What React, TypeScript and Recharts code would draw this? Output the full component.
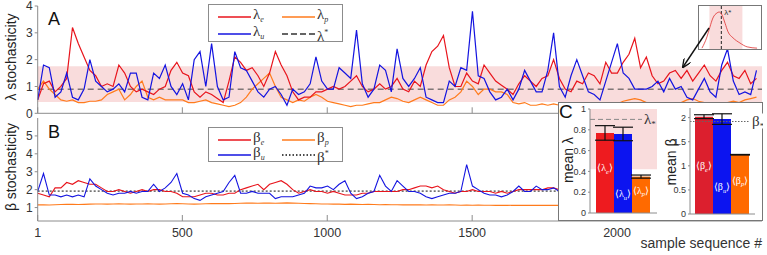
import React from 'react';
import { LineChart, Line, XAxis, YAxis, ReferenceArea, ReferenceLine, BarChart, Bar, ErrorBar } from 'recharts';

const SANS = '"Liberation Sans", Arial, Helvetica, sans-serif';
const SERIF = '"Liberation Serif", "Times New Roman", serif';
const AXIS = '#8c8c8c';
const TEXT = '#333333';
const PINK = '#f9dcdc';
const RED = '#e8141c';
const BLUE = '#1414e0';
const ORANGE = '#ff7b1c';
const BAR_RED = '#ee1b1f';
const BAR_RED_B = '#dc1f2e';
const BAR_BLUE = '#0c14f0';
const BAR_ORANGE = '#ff6a00';

// one reading every 20 samples, starting at sample 1
const STEP = 20;
const X_TICKS = [1, 500, 1000, 1500, 2000];
const LAMBDA_TICKS = [0, 1, 2, 3, 4];
const BETA_TICKS = [1, 2, 3, 4, 5];

const LAMBDA_E = [
  0.5, 1.1, 1.2, 0.8, 1.0, 1.3, 3.2, 2.6, 2.1, 1.6, 1.4, 1.0, 1.1, 1.0, 1.8, 1.5, 1.0, 0.8, 0.9, 0.8,
  0.7, 0.9, 1.0, 1.6, 1.9, 1.5, 1.4, 0.8, 0.6, 0.8, 0.7, 0.55, 0.4, 1.2, 2.1, 1.9, 1.6, 1.7, 1.4,
  1.0, 1.5, 2.3, 1.8, 1.4, 0.8, 0.5, 0.6, 0.6, 0.8, 0.8, 0.9, 1.0, 0.9, 1.0, 1.2, 1.4, 1.0, 0.8, 0.9,
  1.1, 0.9, 1.0, 1.3, 0.9, 0.8, 1.2, 1.0, 1.8, 2.3, 2.5, 2.9, 1.7, 1.0, 1.0, 1.5, 1.2, 1.1, 1.8, 1.5,
  1.2, 1.05, 0.9,
  0.7, 1.1, 1.4, 1.2, 1.0, 1.3, 1.4, 2.0, 1.3, 0.9, 0.8, 1.2, 1.1, 1.5, 1.4, 1.1, 1.9, 1.5, 1.5, 1.9,
  2.2, 2.8, 1.7, 2.1, 1.4, 1.1, 1.2, 1.5, 1.6, 1.3, 1.6, 1.2, 1.5, 1.8, 1.4, 1.2, 1.6, 1.9, 1.4, 1.3,
  1.6, 1.1, 1.3,
];
const LAMBDA_U = [
  0.5, 1.8, 1.7, 0.6, 0.8, 1.5, 0.6, 0.5, 0.9, 2.0, 1.2, 1.0, 0.8, 0.9, 1.1, 0.8, 1.5, 1.5, 0.6, 0.5,
  1.5, 1.3, 1.8, 1.0, 0.7, 1.1, 0.5, 2.0, 2.3, 1.0, 2.6, 1.0, 0.5, 0.6, 2.3, 1.7, 1.6, 1.2, 0.8,
  0.6, 0.9, 1.0, 0.7, 0.3, 0.9, 0.7, 0.8, 1.1, 2.1, 1.2, 0.9, 0.9, 1.7, 1.5, 1.3, 3.1, 1.1, 0.6, 0.9,
  1.8, 1.6, 0.8, 2.4, 1.3, 1.0, 1.3, 1.7, 0.6, 0.5, 0.4, 0.4, 1.2, 1.0, 1.7, 1.6, 3.8, 1.4, 1.3, 0.8,
  0.5, 0.6, 0.9,
  0.5, 0.9, 1.6, 1.2, 0.8, 0.8, 1.6, 3.0, 1.0, 0.6, 1.4, 2.0, 1.4, 0.8, 0.7, 0.5, 1.2, 1.9, 2.6, 1.5,
  1.3, 0.9, 0.9, 0.9, 1.0, 1.2, 0.8, 1.3, 0.9, 1.0, 0.6, 0.5, 0.9, 1.3, 0.8, 0.6, 1.8, 2.4, 1.2, 0.7,
  0.8, 0.7, 1.6,
];
const LAMBDA_P = [
  0.9, 1.2, 0.9, 0.7, 0.5, 0.45, 0.5, 0.4, 0.4, 0.45, 0.45, 0.5, 0.7, 0.8, 0.9, 0.5, 0.7, 1.0, 1.2, 0.6,
  0.5, 0.6, 0.5, 0.5, 0.5, 0.5, 0.4, 0.4, 0.45, 0.5, 0.4, 0.35, 0.3, 0.25, 0.3, 0.4, 0.6, 0.9, 1.1,
  1.3, 1.5, 1.0, 0.6, 0.5, 0.4, 0.5, 0.45, 0.6, 0.7, 0.6, 0.45, 0.4, 0.35, 0.3, 0.25, 0.3, 0.3, 0.35, 0.4,
  0.4, 0.5, 0.6, 0.55, 0.45, 0.4, 0.5, 0.6, 0.5, 0.4, 0.3, 0.3, 0.5, 0.6, 0.8, 1.2, 1.0, 0.7, 0.9, 0.9,
  0.8, 0.8, 0.7,
  0.4, 0.35, 0.4, 0.3, 0.3, 0.35, 0.3, 0.35, 0.3, 0.35, 0.3, 0.3, 0.35, 0.3, 0.35, 0.4, 0.35, 0.3, 0.35, 0.45,
  0.5, 0.55, 0.5, 0.4, 0.35, 0.3, 0.35, 0.3, 0.35, 0.4, 0.5, 0.55, 0.45, 0.4, 0.35, 0.3, 0.35, 0.4, 0.45, 0.4,
  0.5, 0.55, 0.6,
];

// beta traces are covered by panel C after ~sample 1800, so they stop there
const BETA_E = [
  1.8, 1.7, 1.6, 2.1, 2.1, 2.4, 2.3, 2.5, 2.4, 2.3, 2.3, 2.1, 1.9, 1.9, 2.0, 1.9, 1.8, 1.9, 2.0, 1.9,
  2.0, 2.0, 1.9, 1.9, 1.8, 1.6, 1.6, 1.6, 1.7, 1.8, 1.8, 1.7, 1.7, 1.8, 1.8, 2.0, 2.1, 2.2, 2.3,
  2.0, 2.3, 2.4, 2.5, 2.3, 2.0, 1.8, 1.9, 2.0, 1.9, 1.9, 1.8, 1.9, 1.8, 1.7, 1.7, 1.7, 1.8, 1.8, 1.9,
  1.9, 1.9, 1.9, 1.9, 2.0, 2.0, 2.1, 2.2, 2.2, 2.1, 2.2, 2.0, 1.9, 1.8, 1.9, 1.9, 2.0, 1.9, 1.9, 1.9,
  1.8, 1.9, 1.8, 1.9, 2.0, 2.0, 2.0, 2.0, 2.0, 2.1, 2.1, 2.0,
];
const BETA_U = [
  1.9, 2.9, 1.7, 1.7, 1.6, 1.7, 1.6, 1.7, 1.6, 2.6, 2.2, 2.0, 1.8, 1.7, 1.8, 1.8, 1.9, 1.8, 1.9, 1.9,
  2.3, 1.9, 2.1, 2.4, 2.9, 1.8, 1.7, 1.5, 1.4, 1.6, 1.7, 1.8, 1.9, 2.4, 2.8, 1.8, 1.8, 1.9, 1.8,
  1.8, 1.8, 1.5, 1.6, 1.6, 1.6, 1.7, 1.8, 2.2, 2.1, 2.1, 2.2, 2.0, 2.3, 2.5, 1.8, 1.5, 1.6, 1.8, 1.9,
  2.8, 2.2, 1.9, 2.5, 2.2, 1.9, 1.9, 1.8, 1.6, 1.5, 1.6, 1.7, 1.8, 1.8, 1.9, 3.4, 2.2, 2.0, 1.8, 1.7,
  1.7, 1.6, 1.7, 1.9, 2.2, 1.9, 1.9, 2.2, 2.0, 2.0, 2.1, 1.9,
];
const BETA_P = [
  1.15, 1.15, 1.14, 1.16, 1.17, 1.18, 1.18, 1.17, 1.18, 1.19, 1.2, 1.2, 1.19, 1.2, 1.21, 1.2, 1.19, 1.2, 1.2, 1.21,
  1.2, 1.19, 1.2, 1.21, 1.22, 1.21, 1.2, 1.19, 1.2, 1.21, 1.22, 1.22, 1.23, 1.22, 1.23, 1.24, 1.25, 1.25, 1.24,
  1.25, 1.25, 1.24, 1.25, 1.26, 1.25, 1.24, 1.23, 1.22, 1.21, 1.2, 1.2, 1.19, 1.19, 1.18, 1.19, 1.18, 1.17, 1.18, 1.17,
  1.16, 1.17, 1.16, 1.16, 1.15, 1.16, 1.15, 1.15, 1.14, 1.15, 1.14, 1.14, 1.15, 1.14, 1.13, 1.14, 1.13, 1.14, 1.13, 1.13,
  1.12, 1.13, 1.12, 1.13, 1.12, 1.12, 1.13, 1.12, 1.12, 1.12, 1.12, 1.12,
];

const LAMBDA_STAR = 0.9;
const LAMBDA_BAND = [0.42, 1.75];
const BETA_STAR = 1.92;

// inset: distribution of lambda
const DIST_X = [0.12, 0.32, 0.44, 0.56, 0.73, 0.81, 0.93, 1.05, 1.17, 1.37, 1.65, 1.94, 2.34];
const DIST_Y = [0.02, 0.28, 0.51, 0.72, 0.84, 0.86, 0.79, 0.6, 0.4, 0.26, 0.14, 0.05, 0.02];

// panel C: means and error bars (e, u, p)
const MEAN_LAMBDA = [0.77, 0.76, 0.35];
const MEAN_LAMBDA_ERR = [0.07, 0.065, 0.015];
const MEAN_BETA = [2.02, 1.97, 1.23];
const MEAN_BETA_ERR = [0.04, 0.11, 0.006];
const MEAN_LAMBDA_TICKS = [0, 0.2, 0.4, 0.6, 0.8, 1];
const MEAN_BETA_TICKS = [0, 0.5, 1, 1.5, 2];

const lambdaRows = LAMBDA_E.map((v, i) => ({ n: 1 + i * STEP, e: v, u: LAMBDA_U[i], p: LAMBDA_P[i] }));
const betaRows = BETA_E.map((v, i) => ({ n: 1 + i * STEP, e: v, u: BETA_U[i], p: BETA_P[i] }));
const distRows = DIST_X.map((x, i) => ({ x, y: DIST_Y[i] }));
const meanRows = (vals: number[], errs: number[]) => [
  { g: 'mean', e: vals[0], u: vals[1], p: vals[2], eErr: errs[0], uErr: errs[1], pErr: errs[2] },
];

const BottomTick = ({ x, y, payload, showLabel }: any) => (
  <g>
    <line x1={x} x2={x} y1={y - (showLabel ? 7 : 0)} y2={y - (showLabel ? 7 : 0) - 6} stroke={AXIS} />
    {showLabel && (
      <text x={x} y={y} dy="0.75em" textAnchor="middle" fontSize={12.5} fill={TEXT} fontFamily={SANS}>
        {payload.value}
      </text>
    )}
  </g>
);

const BarTag = ({ x, y, width, height, sym, sub, frac }: any) => (
  <text
    x={x + width / 2}
    y={y + height * (1 - frac) + 4}
    textAnchor="middle"
    fill="#fff"
    fontSize={10}
    fontFamily={SERIF}
  >
    <tspan>{'\u27E8' + sym}</tspan>
    <tspan dy={2.5} fontSize={6.5} fontStyle="italic">{sub}</tspan>
    <tspan dy={-2.5}>{'\u27E9'}</tspan>
  </text>
);

const StarTag = ({ viewBox, sym, bg, dx }: any) => {
  const rx = viewBox.x + viewBox.width + dx;
  return (
    <g>
      <rect x={rx - 2} y={viewBox.y - 8} width={15} height={15} fill={bg} />
      <text x={rx} y={viewBox.y + 5} fontSize={15} fill="#333" fontFamily={SERIF}>
        {sym}
        <tspan dy={3} fontSize={9}>*</tspan>
      </text>
    </g>
  );
};

type LegendItem = { color: string; dash?: string; sym: string; sub?: string; sup?: string; left: number; top: number };

const LegendBox = ({ left, top, width, height, items }: { left: number; top: number; width: number; height: number; items: LegendItem[] }) => (
  <div
    style={{
      position: 'absolute', left, top, width, height, boxSizing: 'border-box',
      border: `1px solid ${AXIS}`, background: '#fff',
    }}
  >
    {items.map((it, i) => (
      <div key={i} style={{ position: 'absolute', left: it.left, top: it.top, height: 14, display: 'flex', alignItems: 'center' }}>
        <svg width={33} height={4} style={{ display: 'block' }}>
          <line x1={0} x2={33} y1={2} y2={2} stroke={it.color} strokeWidth={1.3} strokeDasharray={it.dash} />
        </svg>
        <span style={{ fontFamily: SERIF, fontSize: 15, lineHeight: '13px', marginLeft: 2, color: '#333', whiteSpace: 'nowrap' }}>
          {it.sym}
          {it.sub && <span style={{ fontSize: 8, fontStyle: 'italic', verticalAlign: -3 }}>{it.sub}</span>}
          {it.sup && <span style={{ fontSize: 8, verticalAlign: 6 }}>{it.sup}</span>}
        </span>
      </div>
    ))}
  </div>
);

const lambdaLegend: LegendItem[] = [
  { color: RED, sym: 'λ', sub: 'e', left: 9, top: 5 },
  { color: ORANGE, sym: 'λ', sub: 'p', left: 73, top: 5 },
  { color: BLUE, sym: 'λ', sub: 'u', left: 9, top: 22 },
  { color: '#333', dash: '6 3', sym: 'λ', sup: '*', left: 73, top: 22 },
];
const betaLegend: LegendItem[] = [
  { color: RED, sym: 'β', sub: 'e', left: 9, top: 5 },
  { color: ORANGE, sym: 'β', sub: 'p', left: 73, top: 5 },
  { color: BLUE, sym: 'β', sub: 'u', left: 9, top: 20 },
  { color: '#111', dash: '1.5 2', sym: 'β', sup: '*', left: 73, top: 20 },
];

const yTick = { fontSize: 12, fill: TEXT, fontFamily: SANS };
const smallTick = { fontSize: 9, fill: TEXT, fontFamily: SANS };

export default function App() {
  return (
    <div style={{ position: 'absolute', left: 0, top: 0, width: 767, height: 255, background: '#fff', overflow: 'hidden', fontFamily: SANS }}>
      {/* Panel A */}
      <div style={{ position: 'absolute', left: 0, top: 0 }}>
        <LineChart width={767} height={125} data={lambdaRows} margin={{ top: 6, right: 5, bottom: 0, left: 0 }}>
          <ReferenceArea y1={LAMBDA_BAND[0]} y2={LAMBDA_BAND[1]} fill={PINK} fillOpacity={1} stroke="none" />
          <XAxis
            dataKey="n" type="number" domain={[1, 2500]} ticks={X_TICKS} interval={0}
            height={11.7} tickSize={0} tickMargin={0} tickLine={false}
            axisLine={{ stroke: AXIS }}
            tick={(p: any) => <BottomTick {...p} showLabel={false} />}
          />
          <YAxis
            domain={[0, 4]} ticks={LAMBDA_TICKS} interval={0} width={37.7} tickSize={3} tickMargin={2}
            axisLine={{ stroke: AXIS }} tickLine={{ stroke: AXIS }} tick={yTick}
          />
          <ReferenceLine y={LAMBDA_STAR} stroke="#444" strokeDasharray="6 4" />
          <Line dataKey="p" stroke={ORANGE} strokeWidth={1.2} dot={false} type="linear" isAnimationActive={false} />
          <Line dataKey="e" stroke={RED} strokeWidth={1.2} dot={false} type="linear" isAnimationActive={false} />
          <Line dataKey="u" stroke={BLUE} strokeWidth={1.2} dot={false} type="linear" isAnimationActive={false} />
        </LineChart>
      </div>

      {/* Panel B */}
      <div style={{ position: 'absolute', left: 0, top: 112 }}>
        <LineChart width={767} height={143} data={betaRows} margin={{ top: 6, right: 5, bottom: 0, left: 0 }}>
          <XAxis
            dataKey="n" type="number" domain={[1, 2500]} ticks={X_TICKS} interval={0}
            height={34} tickSize={0} tickMargin={7} tickLine={false}
            axisLine={{ stroke: AXIS }}
            tick={(p: any) => <BottomTick {...p} showLabel />}
          />
          <YAxis
            domain={[0.25, 6]} ticks={BETA_TICKS} interval={0} width={37.7} tickSize={3} tickMargin={2}
            axisLine={{ stroke: AXIS }} tickLine={{ stroke: AXIS }} tick={yTick}
          />
          <ReferenceLine y={BETA_STAR} stroke="#111" strokeDasharray="2 2" />
          <Line dataKey="p" stroke={ORANGE} strokeWidth={1.1} dot={false} type="linear" isAnimationActive={false} />
          <Line dataKey="e" stroke={RED} strokeWidth={1.1} dot={false} type="linear" isAnimationActive={false} />
          <Line dataKey="u" stroke={BLUE} strokeWidth={1.1} dot={false} type="linear" isAnimationActive={false} />
        </LineChart>
      </div>

      <LegendBox left={208} top={4} width={135} height={38} items={lambdaLegend} />
      <LegendBox left={208} top={127} width={135} height={35} items={betaLegend} />

      {/* inset: lambda distribution */}
      <div style={{ position: 'absolute', left: 698, top: 5, width: 64, height: 45, boxSizing: 'border-box', border: '1px solid #777', background: '#fff' }}>
        <LineChart width={62} height={43} data={distRows} margin={{ top: 0, right: 0, bottom: 0, left: 0 }}>
          <XAxis dataKey="x" type="number" domain={[0, 2.5]} hide />
          <YAxis domain={[0, 1]} hide />
          <ReferenceArea x1={LAMBDA_BAND[0]} x2={LAMBDA_BAND[1]} fill={PINK} fillOpacity={1} stroke="none" />
          <ReferenceLine
            x={LAMBDA_STAR} stroke="#222" strokeDasharray="3 2"
            label={{ value: 'λ*', position: 'insideTopLeft', offset: 3, fontSize: 8, fill: '#333' }}
          />
          <Line dataKey="y" stroke="#e03030" strokeWidth={0.8} dot={false} type="monotone" isAnimationActive={false} />
        </LineChart>
      </div>

      {/* Panel C */}
      <div style={{ position: 'absolute', left: 558, top: 102, width: 205, height: 119, boxSizing: 'border-box', border: '1px solid #777', background: '#fff' }}>
        <div style={{ position: 'absolute', left: 0, top: 0 }}>
          <BarChart width={100} height={117} data={meanRows(MEAN_LAMBDA, MEAN_LAMBDA_ERR)} margin={{ top: 6, right: 2, bottom: 6, left: 0 }} barGap={0} barCategoryGap={6}>
            <ReferenceArea y1={LAMBDA_BAND[0]} y2={1} fill={PINK} fillOpacity={1} stroke="none" />
            <XAxis dataKey="g" height={1} tick={false} tickLine={false} axisLine={{ stroke: AXIS }} />
            <YAxis domain={[0, 1]} ticks={MEAN_LAMBDA_TICKS} interval={0} width={31} tickSize={2} tickMargin={2} axisLine={{ stroke: AXIS }} tickLine={{ stroke: AXIS }} tick={smallTick} />
            <ReferenceLine y={LAMBDA_STAR} stroke="#888" strokeDasharray="5 3" label={(p: any) => <StarTag {...p} sym="λ" bg={PINK} dx={-13} />} />
            <Bar dataKey="e" fill={BAR_RED} isAnimationActive={false} label={(p: any) => <BarTag {...p} sym="λ" sub="e" frac={0.57} />}>
              <ErrorBar dataKey="eErr" width={10} stroke="#111" strokeWidth={1.2} />
            </Bar>
            <Bar dataKey="u" fill={BAR_BLUE} isAnimationActive={false} label={(p: any) => <BarTag {...p} sym="λ" sub="u" frac={0.25} />}>
              <ErrorBar dataKey="uErr" width={10} stroke="#111" strokeWidth={1.2} />
            </Bar>
            <Bar dataKey="p" fill={BAR_ORANGE} isAnimationActive={false} label={(p: any) => <BarTag {...p} sym="λ" sub="p" frac={0.64} />}>
              <ErrorBar dataKey="pErr" width={10} stroke="#111" strokeWidth={1.2} />
            </Bar>
          </BarChart>
        </div>
        <div style={{ position: 'absolute', left: 100, top: 0 }}>
          <BarChart width={104} height={117} data={meanRows(MEAN_BETA, MEAN_BETA_ERR)} margin={{ top: 5, right: 8, bottom: 5, left: 0 }} barGap={0} barCategoryGap={5}>
            <XAxis dataKey="g" height={1} tick={false} tickLine={false} axisLine={{ stroke: AXIS }} />
            <YAxis domain={[0, 2.2]} ticks={MEAN_BETA_TICKS} interval={0} width={31} tickSize={2} tickMargin={2} axisLine={{ stroke: AXIS }} tickLine={{ stroke: AXIS }} tick={smallTick} />
            <ReferenceLine y={BETA_STAR} stroke="#666" strokeDasharray="1.5 1.5" label={(p: any) => <StarTag {...p} sym="β" bg="#fff" dx={-3} />} />
            <Bar dataKey="e" fill={BAR_RED_B} isAnimationActive={false} label={(p: any) => <BarTag {...p} sym="β" sub="e" frac={0.5} />}>
              <ErrorBar dataKey="eErr" width={10} stroke="#111" strokeWidth={1.2} />
            </Bar>
            <Bar dataKey="u" fill={BAR_BLUE} isAnimationActive={false} label={(p: any) => <BarTag {...p} sym="β" sub="u" frac={0.29} />}>
              <ErrorBar dataKey="uErr" width={10} stroke="#111" strokeWidth={1.2} />
            </Bar>
            <Bar dataKey="p" fill={BAR_ORANGE} isAnimationActive={false} label={(p: any) => <BarTag {...p} sym="β" sub="p" frac={0.58} />}>
              <ErrorBar dataKey="pErr" width={10} stroke="#111" strokeWidth={1.2} />
            </Bar>
          </BarChart>
        </div>
      </div>

      {/* titles, panel letters, arrow */}
      <svg width={767} height={255} style={{ position: 'absolute', left: 0, top: 0, pointerEvents: 'none' }}>
        <defs>
          <marker id="arrowHead" markerWidth={9} markerHeight={8} refX={8} refY={4} orient="auto" markerUnits="userSpaceOnUse">
            <path d="M0,0 L9,4 L0,8" fill="none" stroke="#111" strokeWidth={1.3} />
          </marker>
        </defs>
        <line x1={709} y1={28} x2={683} y2={67} stroke="#111" strokeWidth={1.4} markerEnd="url(#arrowHead)" />
        <text transform="translate(16,57) rotate(-90)" textAnchor="middle" fontSize={14} fill="#222" fontFamily={SANS}>λ stochasticity</text>
        <text transform="translate(16,167) rotate(-90)" textAnchor="middle" fontSize={14} fill="#222" fontFamily={SANS}>β stochasticity</text>
        <text x={48} y={25} fontSize={18} fill="#111" fontFamily={SANS}>A</text>
        <text x={48} y={138} fontSize={18} fill="#111" fontFamily={SANS}>B</text>
        <text x={559} y={118} fontSize={19} fill="#111" fontFamily={SANS}>C</text>
        <text transform="translate(573,160) rotate(-90)" textAnchor="middle" fontSize={14} fill="#222" fontFamily={SANS}>mean λ</text>
        <text transform="translate(676,162) rotate(-90)" textAnchor="middle" fontSize={14} fill="#222" fontFamily={SANS}>mean β</text>
        <text x={762} y={248} textAnchor="end" fontSize={14} fill="#333" fontFamily={SANS}>sample sequence #</text>
      </svg>
    </div>
  );
}
